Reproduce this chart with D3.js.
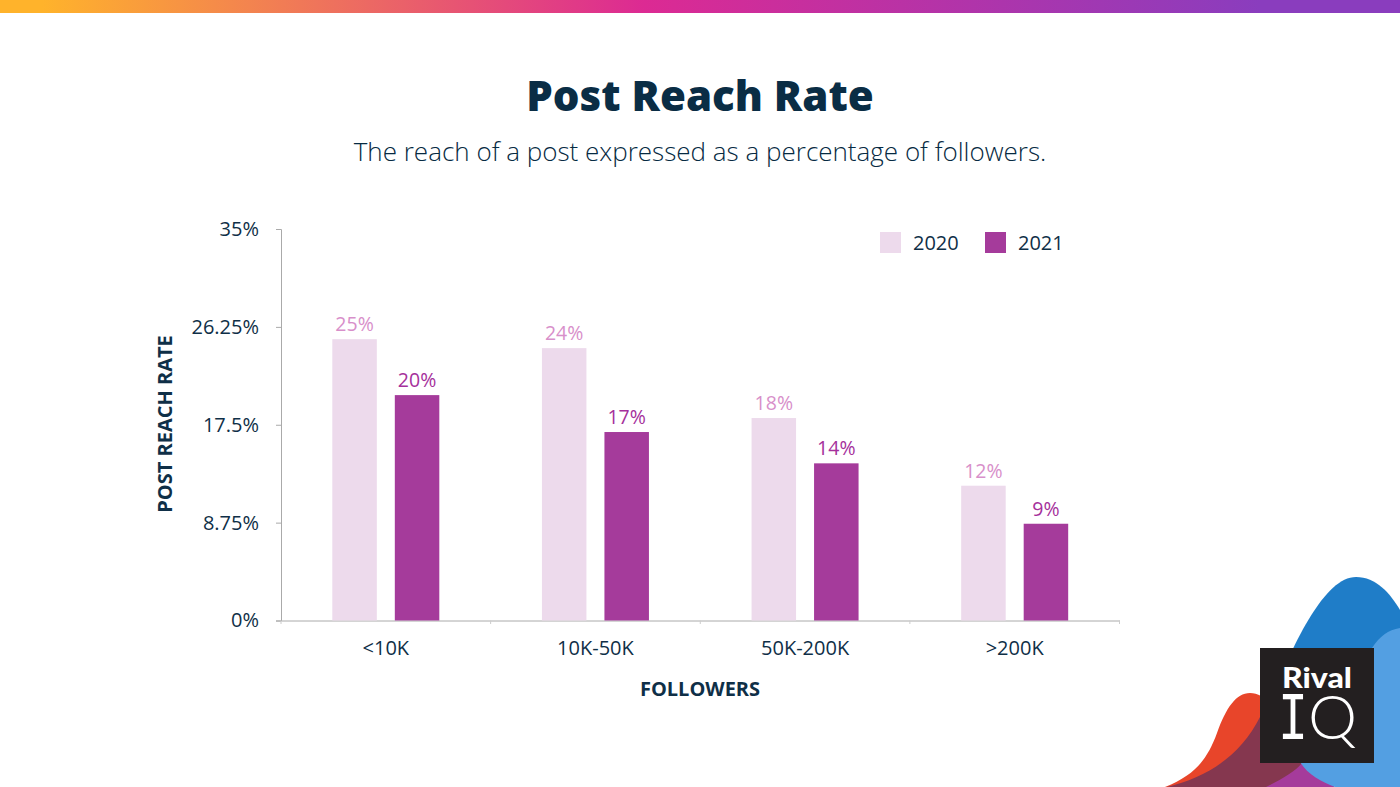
<!DOCTYPE html>
<html>
<head>
<meta charset="utf-8">
<script src="https://cdn.jsdelivr.net/npm/d3@7"></script>
<style>
html, body { margin: 0; padding: 0; background: #fff; }
svg { display: block; }
text { font-family: "Open Sans", sans-serif; fill: #0f2f47; }
</style>
</head>
<body>
<svg id="chart" width="1400" height="787"></svg>
<script>
// values
var categories = ["<10K", "10K-50K", "50K-200K", ">200K"];
var seriesNames = ["2020", "2021"];
var values2020 = [25.15, 24.35, 18.1, 12.05];
var values2021 = [20.15, 16.85, 14.05, 8.65];
var labels2020 = ["25%", "24%", "18%", "12%"];
var labels2021 = ["20%", "17%", "14%", "9%"];
var yTicks = [0, 8.75, 17.5, 26.25, 35];

var svg = d3.select("#chart");

// top gradient strip
var grad = svg.append("defs").append("linearGradient").attr("id", "strip");
[["0%", "#ffb32b"], ["3%", "#ffb32b"], ["46%", "#dc2a93"], ["90%", "#8a3dbe"], ["100%", "#8a3dbe"]].forEach(function (s) {
    grad.append("stop").attr("offset", s[0]).attr("stop-color", s[1]);
});
svg.append("rect").attr("width", 1400).attr("height", 13).attr("fill", "url(#strip)");

// titles
svg.append("text").attr("x", 700).attr("y", 111).attr("text-anchor", "middle")
    .style("font-size", "42px").style("font-weight", 800).style("fill", "#0a2d45").text("Post Reach Rate");
svg.append("text").attr("x", 700).attr("y", 160.5).attr("text-anchor", "middle")
    .style("font-size", "26px").style("font-weight", 300).style("fill", "#062a42").text("The reach of a post expressed as a percentage of followers.");

// scales
var x = d3.scaleBand().domain(categories).range([281, 1119.5]);
var y = d3.scaleLinear().domain([0, 35]).range([620.5, 229]);
var barW = 44.5, gap = 18;
var color = { "2020": "#eddaec", "2021": "#a53b9b" };
var labelColor = { "2020": "#d88fca", "2021": "#a5309b" };

// axes
var yAxis = d3.axisLeft(y).tickValues(yTicks).tickSize(5).tickPadding(17).tickFormat(function (d) { return d + "%"; });
var gy = svg.append("g").attr("transform", "translate(281,0)").call(yAxis);
var xAxis = d3.axisBottom(x).tickSize(0).tickPadding(20);
var gx = svg.append("g").attr("transform", "translate(0,620.5)").call(xAxis);
gy.selectAll("text").style("font-size", "20px");
gx.selectAll("text").style("font-size", "20px");
gy.select(".domain").attr("stroke", "#aaaaaa");
gx.select(".domain").attr("stroke", "#aaaaaa");
gy.selectAll("line").attr("stroke", "#aaaaaa");

// little ticks between the categories
svg.selectAll(".sep").data(categories).enter().append("line")
    .attr("x1", function (d) { return x(d); }).attr("x2", function (d) { return x(d); })
    .attr("y1", 620.5).attr("y2", 624).attr("stroke", "#cccccc");
svg.append("line").attr("x1", x.range()[1]).attr("x2", x.range()[1])
    .attr("y1", 620.5).attr("y2", 624).attr("stroke", "#cccccc");

// bars and labels
function drawSeries(name, vals, labs, offset) {
    var g = svg.append("g");
    g.selectAll("rect").data(vals).enter().append("rect")
        .attr("x", function (d, i) { return x(categories[i]) + x.bandwidth() / 2 + offset; })
        .attr("y", function (d) { return y(d); })
        .attr("width", barW)
        .attr("height", function (d) { return y(0) - y(d); })
        .attr("fill", color[name]);
    g.selectAll("text").data(vals).enter().append("text")
        .attr("x", function (d, i) { return x(categories[i]) + x.bandwidth() / 2 + offset + barW / 2; })
        .attr("y", function (d) { return y(d) - 8; })
        .attr("text-anchor", "middle")
        .style("font-size", "19.5px")
        .style("fill", labelColor[name])
        .text(function (d, i) { return labs[i]; });
}
drawSeries("2020", values2020, labels2020, -barW - gap / 2);
drawSeries("2021", values2021, labels2021, gap / 2);

// axis titles
svg.append("text").attr("x", 700).attr("y", 696).attr("text-anchor", "middle")
    .style("font-size", "20px").style("font-weight", 700).text("FOLLOWERS");
svg.append("text").attr("transform", "translate(172,424) rotate(-90)").attr("text-anchor", "middle")
    .style("font-size", "20px").style("font-weight", 700).text("POST REACH RATE");

// legend
var legendX = [880, 985];
seriesNames.forEach(function (name, i) {
    svg.append("rect").attr("x", legendX[i]).attr("y", 232).attr("width", 21).attr("height", 21).attr("fill", color[name]);
    svg.append("text").attr("x", legendX[i] + 33).attr("y", 250).style("font-size", "20px").text(name);
});

// logo blobs, bottom right
var logo = svg.append("g");
logo.append("path").attr("fill", "#1f7dc8")
    .attr("d", "M1270 700 C1295 640 1325 577 1356 577 C1376 577 1390 593 1400 610 L1400 720 L1290 720 Z");
logo.append("path").attr("fill", "#e8452a")
    .attr("d", "M1165 787 C1195 775 1207 760 1217 733 C1226 708 1236 693 1250 693 C1262 693 1272 703 1285 720 L1290 787 Z");
logo.append("path").attr("fill", "#a53b9b")
    .attr("d", "M1265 787 C1285 770 1295 760 1300 755 L1335 787 Z");
logo.append("path").attr("fill", "#85374f")
    .attr("d", "M1167 787 C1205 778 1240 757 1260 717 L1280 700 L1302 763 C1295 772 1280 780 1266 787 Z");
logo.append("path").attr("fill", "#539fe2")
    .attr("d", "M1300 762 C1308 775 1322 782 1335 787 L1400 787 L1400 628 C1388 630 1380 636 1372 648 L1340 700 Z");

// logo box
logo.append("rect").attr("x", 1260).attr("y", 648).attr("width", 114).attr("height", 115).attr("fill", "#231f20");
logo.append("text").attr("x", 1317).attr("y", 688).attr("text-anchor", "middle")
    .style("font-family", "Lato, sans-serif").style("font-size", "28px").style("font-weight", 900)
    .style("fill", "#fff").attr("textLength", 70).attr("lengthAdjust", "spacingAndGlyphs").text("Rival");
var iq = logo.append("text").attr("x", 1278).attr("y", 739)
    .style("font-size", "62px").style("fill", "#fff");
iq.append("tspan").style("font-family", "Liberation Mono, monospace").style("font-size", "68px").style("font-weight", 400)
    .style("fill", "#fff").attr("textLength", 30).attr("lengthAdjust", "spacingAndGlyphs").text("I");
iq.append("tspan").style("font-family", "Lato, sans-serif").style("font-weight", 300).style("fill", "#fff").text("Q");
</script>
</body>
</html>
